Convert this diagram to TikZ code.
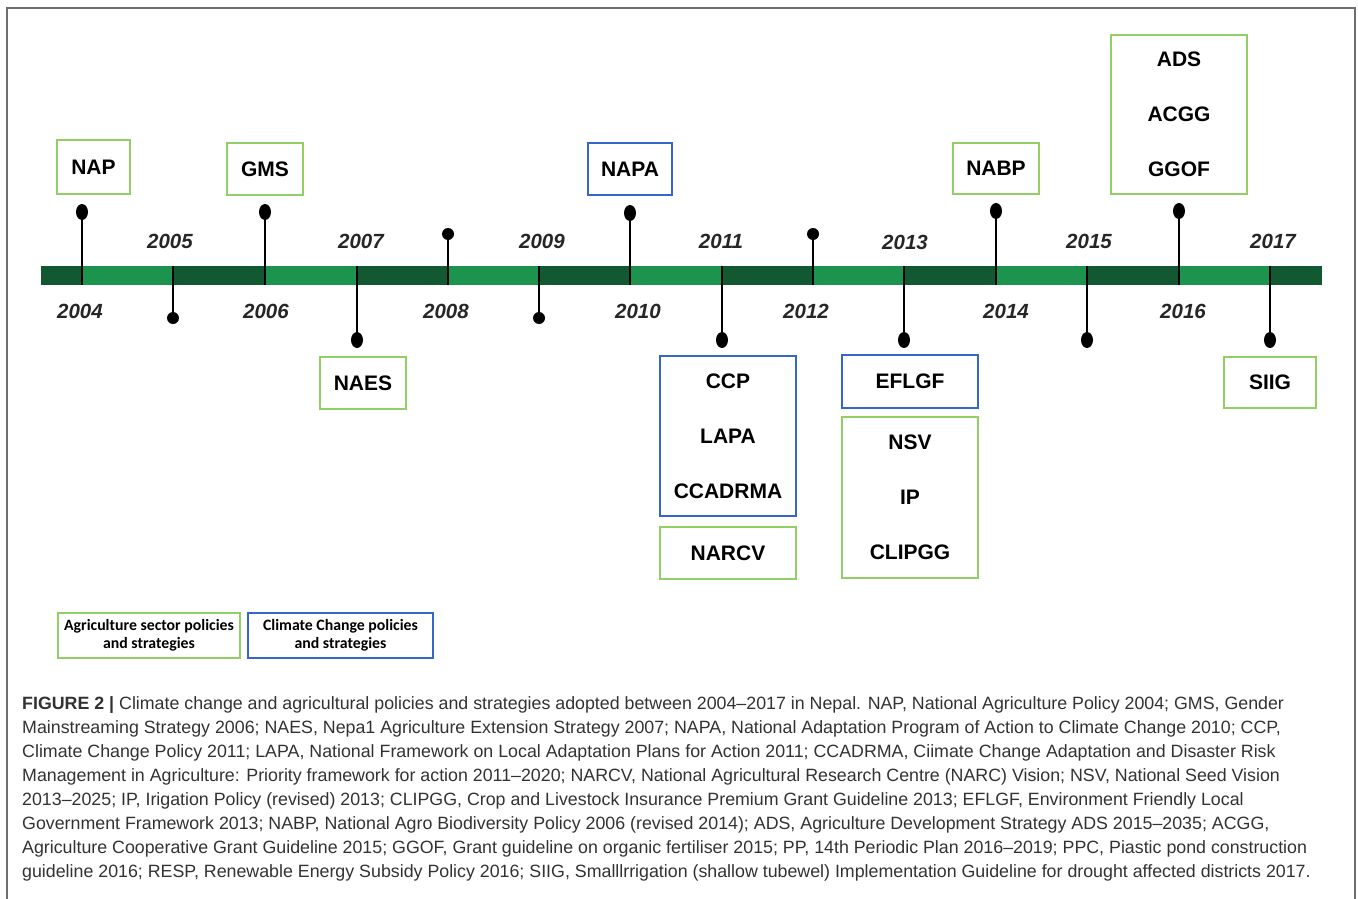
\documentclass[tikz,border=0pt]{standalone}
\usepackage{fontspec}
\setmainfont{Liberation Sans}
\newfontfamily\legfont{Carlito}
\usetikzlibrary{shapes}
\definecolor{bar_dk}{RGB}{18, 88, 48}
\definecolor{bar_lt}{RGB}{28, 148, 78}
\definecolor{agr_green}{RGB}{146, 208, 102}
\definecolor{cc_blue}{RGB}{52, 102, 204}
\definecolor{frame_gray}{RGB}{110, 110, 110}
\definecolor{cap_gray}{RGB}{50, 50, 50}
\tikzstyle{gb}=[rectangle,draw=agr_green,fill=white,line width=2.5pt,
  inner sep=0pt,align=center,font=\fontsize{21}{55}\selectfont\bfseries]
\tikzstyle{bb}=[gb,draw=cc_blue]
\tikzstyle{dt}=[circle,fill=black,inner sep=0pt,minimum size=12pt]
\tikzstyle{dl}=[ellipse,fill=black,inner sep=0pt,minimum width=12pt,minimum height=16pt]
\tikzstyle{ln}=[line width=1.5pt]
\tikzstyle{yr}=[inner sep=0pt,text=black!85,font=\fontsize{20.5}{24}\selectfont\bfseries\itshape]
\tikzstyle{lg}=[rectangle,fill=white,line width=2pt,inner sep=0pt,align=center,
  minimum height=45pt,font=\legfont\fontsize{15.8}{18.5}\selectfont\bfseries]
\tikzstyle{cp}=[anchor=west,inner sep=0pt,text=cap_gray,font=\fontsize{17.8}{20}\selectfont]

\begin{document}
\begin{tikzpicture}[x=1pt,y=-1pt]
    \useasboundingbox (0,0) rectangle (1358,899);
    % frame
    \draw[frame_gray,line width=1.5pt] (7,899) -- (7,8) -- (1355,8) -- (1355,899);
    % time bar
    \fill[bar_lt] (41,266) rectangle (1322,285);
    \fill[bar_dk] (41,266) rectangle (82,285);
    \fill[bar_dk] (173,266) rectangle (265,285);
    \fill[bar_dk] (357,266) rectangle (448,285);
    \fill[bar_dk] (539,266) rectangle (630,285);
    \fill[bar_dk] (722,266) rectangle (813,285);
    \fill[bar_dk] (904,266) rectangle (996,285);
    \fill[bar_dk] (1087,266) rectangle (1179,285);
    \fill[bar_dk] (1270,266) rectangle (1322,285);
    % stem ends on the bar
    \coordinate (t04) at (82,285);
    \coordinate (t05) at (173,266);
    \coordinate (t06) at (265,285);
    \coordinate (t07) at (357,266);
    \coordinate (t08) at (448,285);
    \coordinate (t09) at (539,266);
    \coordinate (t10) at (630,285);
    \coordinate (t11) at (722,266);
    \coordinate (t12) at (813,285);
    \coordinate (t13) at (904,266);
    \coordinate (t14) at (996,285);
    \coordinate (t15) at (1087,266);
    \coordinate (t16) at (1179,285);
    \coordinate (t17) at (1270,266);
    % dots
    \node [style=dl] (d04) at (82,212) {};
    \node [style=dt] (d05) at (173,318) {};
    \node [style=dl] (d06) at (265,212) {};
    \node [style=dl] (d07) at (357,340) {};
    \node [style=dt] (d08) at (448,234) {};
    \node [style=dt] (d09) at (539,318) {};
    \node [style=dl] (d10) at (630,213) {};
    \node [style=dl] (d11) at (722,340) {};
    \node [style=dt] (d12) at (813,234) {};
    \node [style=dl] (d13) at (904,340) {};
    \node [style=dl] (d14) at (996,211) {};
    \node [style=dl] (d15) at (1087,340) {};
    \node [style=dl] (d16) at (1179,211) {};
    \node [style=dl] (d17) at (1270,340) {};
    \draw [style=ln] (d04) to (t04);
    \draw [style=ln] (d05) to (t05);
    \draw [style=ln] (d06) to (t06);
    \draw [style=ln] (d07) to (t07);
    \draw [style=ln] (d08) to (t08);
    \draw [style=ln] (d09) to (t09);
    \draw [style=ln] (d10) to (t10);
    \draw [style=ln] (d11) to (t11);
    \draw [style=ln] (d12) to (t12);
    \draw [style=ln] (d13) to (t13);
    \draw [style=ln] (d14) to (t14);
    \draw [style=ln] (d15) to (t15);
    \draw [style=ln] (d16) to (t16);
    \draw [style=ln] (d17) to (t17);
    % years
    \node [style=yr] (y04) at (80,311) {2004};
    \node [style=yr] (y05) at (170,241) {2005};
    \node [style=yr] (y06) at (266,311) {2006};
    \node [style=yr] (y07) at (361,241) {2007};
    \node [style=yr] (y08) at (446,311) {2008};
    \node [style=yr] (y09) at (542,241) {2009};
    \node [style=yr] (y10) at (638,311) {2010};
    \node [style=yr] (y11) at (721,241) {2011};
    \node [style=yr] (y12) at (806,311) {2012};
    \node [style=yr] (y13) at (905,242) {2013};
    \node [style=yr] (y14) at (1006,311) {2014};
    \node [style=yr] (y15) at (1089,241) {2015};
    \node [style=yr] (y16) at (1183,311) {2016};
    \node [style=yr] (y17) at (1273,241) {2017};
    % policies
    \node [style=gb,minimum width=73pt,minimum height=54pt] (nap) at (93.5,167) {NAP};
    \node [style=gb,minimum width=76pt,minimum height=52pt] (gms) at (265,169) {GMS};
    \node [style=gb,minimum width=86pt,minimum height=52pt] (naes) at (363,383) {NAES};
    \node [style=bb,minimum width=84pt,minimum height=52pt] (napa) at (630,169) {NAPA};
    \node [style=bb,minimum width=136pt,minimum height=160pt] (ccp) at (728,436) {CCP\\LAPA\\CCADRMA};
    \node [style=gb,minimum width=136pt,minimum height=52pt] (narcv) at (728,553) {NARCV};
    \node [style=bb,minimum width=136pt,minimum height=53pt] (eflgf) at (910,381.5) {EFLGF};
    \node [style=gb,minimum width=136pt,minimum height=161pt] (nsv) at (910,497.5) {NSV\\IP\\CLIPGG};
    \node [style=gb,minimum width=86pt,minimum height=51pt] (nabp) at (996,168.5) {NABP};
    \node [style=gb,minimum width=136pt,minimum height=159pt] (ads) at (1179,114.5) {ADS\\ACGG\\GGOF};
    \node [style=gb,minimum width=92pt,minimum height=51pt] (siig) at (1270,382.5) {SIIG};
    % legend
    \node [style=lg,draw=agr_green,minimum width=182pt] (lga) at (149,635.5) {Agriculture sector policies\\and strategies};
    \node [style=lg,draw=cc_blue,minimum width=185pt] (lgc) at (340.5,635.5) {Climate Change policies\\and strategies};
    % caption
    \node [style=cp] (cap1) at (22,705) {\textbf{FIGURE 2 |} Climate change and agricultural policies and strategies adopted between 2004–2017 in Nepal. NAP, National Agriculture Policy 2004; GMS, Gender};
    \node [style=cp] (cap2) at (22,729) {Mainstreaming Strategy 2006; NAES, Nepa1 Agriculture Extension Strategy 2007; NAPA, National Adaptation Program of Action to Climate Change 2010; CCP,};
    \node [style=cp] (cap3) at (22,753) {Climate Change Policy 2011; LAPA, National Framework on Local Adaptation Plans for Action 2011; CCADRMA, Ciimate Change Adaptation and Disaster Risk};
    \node [style=cp] (cap4) at (22,777) {Management in Agriculture: Priority framework for action 2011–2020; NARCV, National Agricultural Research Centre (NARC) Vision; NSV, National Seed Vision};
    \node [style=cp] (cap5) at (22,801) {2013–2025; IP, Irigation Policy (revised) 2013; CLIPGG, Crop and Livestock Insurance Premium Grant Guideline 2013; EFLGF, Environment Friendly Local};
    \node [style=cp] (cap6) at (22,825) {Government Framework 2013; NABP, National Agro Biodiversity Policy 2006 (revised 2014); ADS, Agriculture Development Strategy ADS 2015–2035; ACGG,};
    \node [style=cp] (cap7) at (22,849) {Agriculture Cooperative Grant Guideline 2015; GGOF, Grant guideline on organic fertiliser 2015; PP, 14th Periodic Plan 2016–2019; PPC, Piastic pond construction};
    \node [style=cp] (cap8) at (22,873) {guideline 2016; RESP, Renewable Energy Subsidy Policy 2016; SIIG, Smalllrrigation (shallow tubewel) Implementation Guideline for drought affected districts 2017.};
\end{tikzpicture}
\end{document}
